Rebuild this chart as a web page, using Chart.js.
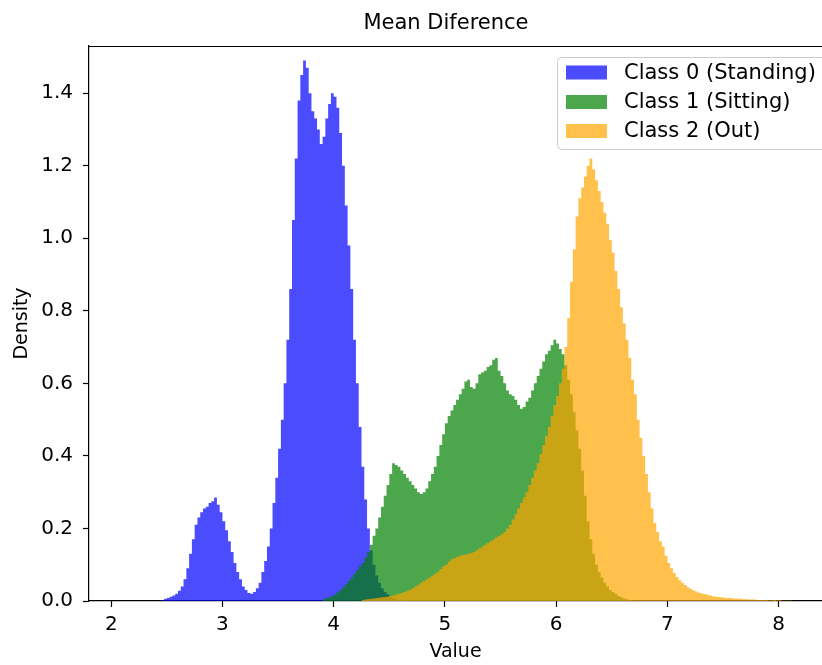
<!DOCTYPE html>
<html>
<head>
<meta charset="utf-8">
<script src="https://cdn.jsdelivr.net/npm/chart.js@4.4.0/dist/chart.umd.min.js"></script>
<style>
html, body { margin: 0; padding: 0; background: #fff; }
canvas { display: block; }
</style>
</head>
<body>
<canvas id="myChart" width="822" height="665"></canvas>
<script>
let binWidth = 0.025;

let labels = ['Class 0 (Standing)', 'Class 1 (Sitting)', 'Class 2 (Out)'];
let colors = ['rgba(0, 0, 255, 0.7)', 'rgba(0, 128, 0, 0.7)', 'rgba(255, 165, 0, 0.7)'];

let class0Start = 2.45;
let class0Density = [
    0.002, 0.003, 0.006, 0.008, 0.012, 0.015, 0.02, 0.028, 0.04, 0.06,
    0.09, 0.13, 0.17, 0.21, 0.23, 0.245, 0.255, 0.26, 0.27, 0.275,
    0.285, 0.265, 0.245, 0.22, 0.195, 0.165, 0.135, 0.105, 0.08, 0.06,
    0.04, 0.03, 0.022, 0.02, 0.025, 0.035, 0.05, 0.08, 0.11, 0.15,
    0.2, 0.27, 0.34, 0.42, 0.5, 0.6, 0.72, 0.86, 1.05, 1.22,
    1.38, 1.45, 1.49, 1.47, 1.40, 1.35, 1.33, 1.30, 1.26, 1.28,
    1.33, 1.37, 1.40, 1.39, 1.36, 1.29, 1.20, 1.09, 0.98, 0.86,
    0.72, 0.60, 0.48, 0.37, 0.28, 0.20, 0.14, 0.10, 0.07, 0.05,
    0.035, 0.025, 0.018, 0.012, 0.008, 0.005, 0.003, 0.002];

let class1Start = 3.90;
let class1Density = [
    0.003, 0.005, 0.008, 0.01, 0.014, 0.018, 0.024, 0.03, 0.038, 0.046,
    0.055, 0.065, 0.075, 0.085, 0.095, 0.105, 0.12, 0.135, 0.155, 0.18,
    0.2, 0.23, 0.26, 0.29, 0.32, 0.35, 0.38, 0.375, 0.37, 0.36,
    0.35, 0.34, 0.33, 0.32, 0.31, 0.30, 0.295, 0.30, 0.31, 0.33,
    0.35, 0.37, 0.40, 0.43, 0.46, 0.49, 0.51, 0.525, 0.54, 0.555,
    0.57, 0.585, 0.605, 0.61, 0.59, 0.585, 0.60, 0.625, 0.63, 0.635,
    0.645, 0.65, 0.665, 0.67, 0.635, 0.62, 0.60, 0.58, 0.57, 0.565,
    0.555, 0.54, 0.53, 0.535, 0.55, 0.56, 0.58, 0.60, 0.62, 0.64,
    0.66, 0.68, 0.69, 0.705, 0.72, 0.71, 0.695, 0.68, 0.65, 0.61,
    0.57, 0.52, 0.47, 0.42, 0.36, 0.29, 0.22, 0.17, 0.13, 0.10,
    0.08, 0.065, 0.05, 0.04, 0.03, 0.025, 0.02, 0.014, 0.01, 0.007,
    0.005, 0.003];

let class2Start = 4.25;
let class2Density = [
    0.002, 0.003, 0.004, 0.005, 0.006, 0.007, 0.008, 0.009, 0.01, 0.011,
    0.012, 0.014, 0.015, 0.018, 0.02, 0.022, 0.025, 0.028, 0.03, 0.035,
    0.04, 0.045, 0.05, 0.055, 0.06, 0.065, 0.07, 0.075, 0.08, 0.088,
    0.095, 0.1, 0.108, 0.115, 0.118, 0.122, 0.125, 0.127, 0.128, 0.13,
    0.132, 0.135, 0.14, 0.145, 0.15, 0.155, 0.16, 0.165, 0.17, 0.175,
    0.18, 0.185, 0.19, 0.2, 0.21, 0.225, 0.24, 0.255, 0.27, 0.285,
    0.30, 0.32, 0.34, 0.36, 0.38, 0.405, 0.43, 0.455, 0.48, 0.51,
    0.54, 0.565, 0.60, 0.64, 0.70, 0.78, 0.88, 0.97, 1.06, 1.11,
    1.14, 1.17, 1.20, 1.22, 1.19, 1.16, 1.13, 1.10, 1.07, 1.04,
    0.995, 0.96, 0.91, 0.86, 0.81, 0.765, 0.72, 0.67, 0.61, 0.57,
    0.50, 0.45, 0.40, 0.35, 0.30, 0.255, 0.215, 0.19, 0.165, 0.15,
    0.125, 0.105, 0.09, 0.077, 0.066, 0.057, 0.05, 0.044, 0.038, 0.033,
    0.029, 0.026, 0.023, 0.021, 0.019, 0.017, 0.015, 0.013, 0.012, 0.011,
    0.01, 0.009, 0.008, 0.008, 0.007, 0.007, 0.006, 0.006, 0.005, 0.005,
    0.004, 0.004, 0.004, 0.003, 0.003, 0.003, 0.003, 0.002, 0.002, 0.003,
    0.002, 0.002, 0.001, 0.001, 0.001, 0.001];

let xTicks = [2, 3, 4, 5, 6, 7, 8];
let yTicks = [0, 0.2, 0.4, 0.6, 0.8, 1.0, 1.2, 1.4];

// histogram bins -> stepped points (left edge of each bin, closed at the right edge)
function toSteps(start, values) {
    let pts = values.map((v, i) => ({ x: +(start + i * binWidth).toFixed(3), y: v }));
    pts.push({ x: +(start + values.length * binWidth).toFixed(3), y: 0 });
    return pts;
}

let fontFamily = "'DejaVu Sans', sans-serif";

let framePlugin = {
    id: 'frame',
    beforeDraw(chart) {
        let ctx = chart.ctx;
        ctx.save();
        ctx.fillStyle = '#fff';
        ctx.fillRect(0, 0, chart.width, chart.height);
        ctx.restore();
    },
    afterDraw(chart) {
        let ctx = chart.ctx;
        let area = chart.chartArea;
        ctx.save();
        // top spine
        ctx.strokeStyle = '#000';
        ctx.lineWidth = 1.2;
        ctx.beginPath();
        ctx.moveTo(area.left, area.top + 0.5);
        ctx.lineTo(area.right, area.top + 0.5);
        ctx.stroke();

        // title
        ctx.fillStyle = '#000';
        ctx.font = '21px ' + fontFamily;
        ctx.textAlign = 'center';
        ctx.textBaseline = 'middle';
        ctx.fillText('Mean Diference', 446, 24);

        // legend
        let lx = 557.5, ly = 57.5, lw = 275, lh = 92;
        ctx.beginPath();
        ctx.roundRect(lx, ly, lw, lh, 4);
        ctx.fillStyle = 'rgba(255,255,255,0.8)';
        ctx.fill();
        ctx.strokeStyle = '#cccccc';
        ctx.lineWidth = 1;
        ctx.stroke();
        let rows = [72.5, 102, 131];
        ctx.font = '21px ' + fontFamily;
        ctx.textAlign = 'left';
        ctx.textBaseline = 'middle';
        for (let i = 0; i < labels.length; i++) {
            ctx.fillStyle = colors[i];
            ctx.fillRect(566, rows[i] - 7, 41, 14);
            ctx.fillStyle = '#000';
            ctx.fillText(labels[i], 624, rows[i] + 1);
        }
        ctx.restore();
    }
};

let myChart = document.getElementById('myChart').getContext('2d');

let chart = new Chart(myChart, {
    type: 'line',
    data: {
        datasets: [
            { label: labels[0], data: toSteps(class0Start, class0Density), backgroundColor: colors[0], order: 3 },
            { label: labels[1], data: toSteps(class1Start, class1Density), backgroundColor: colors[1], order: 2 },
            { label: labels[2], data: toSteps(class2Start, class2Density), backgroundColor: colors[2], order: 1 }
        ].map(ds => Object.assign(ds, {
            stepped: 'after',
            fill: 'origin',
            borderWidth: 0,
            borderColor: 'transparent',
            pointRadius: 0,
            tension: 0
        }))
    },
    options: {
        responsive: false,
        animation: false,
        layout: { padding: { top: 46, left: 0, right: 0, bottom: 0 } },
        plugins: {
            legend: { display: false },
            tooltip: { enabled: false },
            title: { display: false }
        },
        scales: {
            x: {
                type: 'linear',
                min: 1.8,
                max: 8.39,
                afterBuildTicks: scale => { scale.ticks = xTicks.map(v => ({ value: v })); },
                afterFit: scale => { scale.height = 64; },
                grid: { display: true, drawOnChartArea: false, drawTicks: true, tickLength: 6, color: '#000', tickWidth: 1.2 },
                border: { display: true, color: '#000', width: 1.2 },
                ticks: { color: '#000', padding: 6, font: { family: fontFamily, size: 20 }, maxRotation: 0 },
                title: { display: true, text: 'Value', color: '#000', font: { family: fontFamily, size: 19 }, padding: { top: 0, bottom: 2 } }
            },
            y: {
                min: 0,
                max: 1.53,
                afterBuildTicks: scale => { scale.ticks = yTicks.map(v => ({ value: v })); },
                afterFit: scale => { scale.width = 89; },
                grid: { display: true, drawOnChartArea: false, drawTicks: true, tickLength: 6, color: '#000', tickWidth: 1.2 },
                border: { display: true, color: '#000', width: 1.2 },
                ticks: { color: '#000', padding: 10, font: { family: fontFamily, size: 20 }, callback: v => v.toFixed(1) },
                title: { display: true, text: 'Density', color: '#000', font: { family: fontFamily, size: 19 }, padding: { top: 11, bottom: 0 } }
            }
        }
    },
    plugins: [framePlugin]
});
</script>
</body>
</html>
